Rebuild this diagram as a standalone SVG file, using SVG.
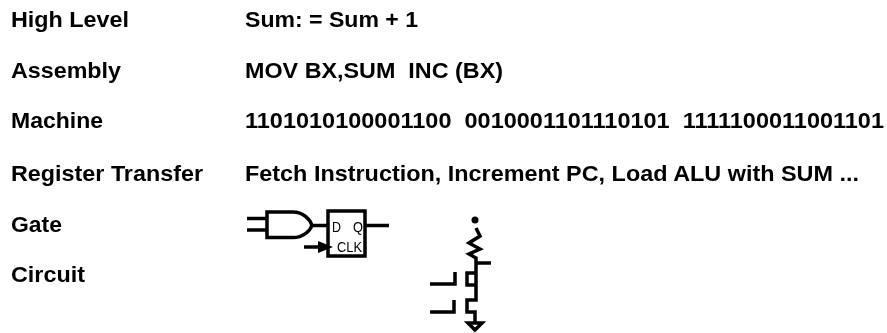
<svg xmlns="http://www.w3.org/2000/svg" width="887" height="333" viewBox="0 0 887 333">
<defs><filter id="soft" filterUnits="userSpaceOnUse" x="0" y="0" width="887" height="333"><feGaussianBlur stdDeviation="0.7"/></filter></defs>
<style>
text{font-family:"Liberation Sans",Arial,sans-serif;font-weight:700;font-size:22px;fill:#000}
.s{font-weight:400;font-size:14px}
.l{fill:none;stroke:#000;stroke-width:3.5}
</style>
<rect width="887" height="333" fill="#fff"/>
<g filter="url(#soft)">
<g id="labels">
<text x="11" y="27" textLength="118" lengthAdjust="spacingAndGlyphs">High Level</text>
<text x="11" y="78" textLength="110" lengthAdjust="spacingAndGlyphs">Assembly</text>
<text x="11" y="128" textLength="92" lengthAdjust="spacingAndGlyphs">Machine</text>
<text x="11" y="181" textLength="192" lengthAdjust="spacingAndGlyphs">Register Transfer</text>
<text x="11" y="232" textLength="51" lengthAdjust="spacingAndGlyphs">Gate</text>
<text x="11" y="282" textLength="74" lengthAdjust="spacingAndGlyphs">Circuit</text>
</g>
<g id="values">
<text x="245" y="27" textLength="173" lengthAdjust="spacingAndGlyphs">Sum: = Sum + 1</text>
<text x="245" y="78" textLength="258" lengthAdjust="spacingAndGlyphs" xml:space="preserve">MOV BX,SUM  INC (BX)</text>
<text x="245" y="128" textLength="639" lengthAdjust="spacingAndGlyphs" xml:space="preserve">1101010100001100  0010001101110101  1111100011001101</text>
<text x="245" y="181" textLength="614" lengthAdjust="spacingAndGlyphs">Fetch Instruction, Increment PC, Load ALU with SUM ...</text>
</g>
<g id="gate">
<path class="l" d="M247 218.500H267M247 230H267M267 212H293C303 212 310 219 312 225.500C310 231 303 237.500 293 237.500H267ZM312 225.500H328"/>
<rect class="l" x="328" y="211" width="37" height="45"/>
<path class="l" d="M365 225.500H389M304 247H322"/>
<path d="M318 241L333 247L318 253Z" fill="#000"/>
<text class="s" x="332" y="232" textLength="9" lengthAdjust="spacingAndGlyphs">D</text>
<text class="s" x="353" y="232" textLength="10" lengthAdjust="spacingAndGlyphs">Q</text>
<text class="s" x="337" y="252" textLength="25" lengthAdjust="spacingAndGlyphs">CLK</text>
</g>
<g id="circuit">
<circle cx="475" cy="220" r="3.500" fill="#000"/>
<path class="l" d="M476 228L480 236L469 243L480 249L469 254L476 258V285M476 263H491M476 273H467V285H476V300H467V312H475V323"/>
<path class="l" d="M468 323H482L475 330Z"/>
<path class="l" d="M430 284H455V272M430 312H454V300"/>
</g>
</g>
</svg>
